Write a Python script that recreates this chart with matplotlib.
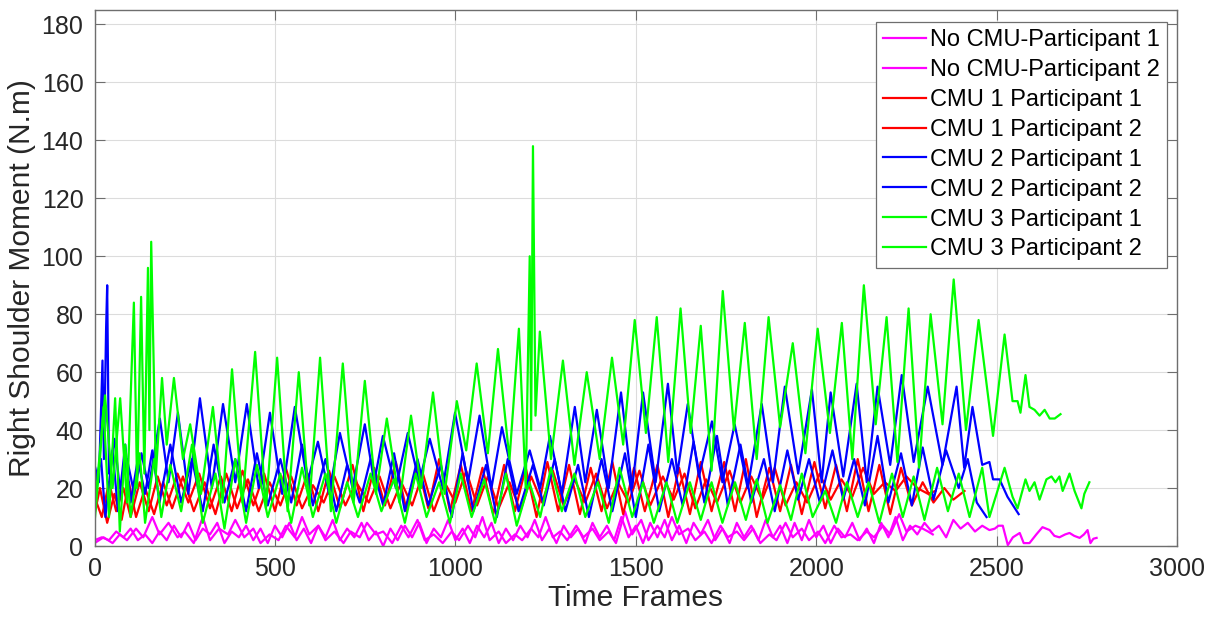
import matplotlib
matplotlib.use("Agg")  # headless
import matplotlib.pyplot as plt

# ---- data (frame, moment) at peaks / troughs ----
nocmu_p1_f = [0, 20, 40, 60, 80, 100, 120, 140, 160, 180, 200, 220, 240, 260, 280, 300, 320, 340, 360, 380,
              400, 420, 440, 460, 480, 500, 520, 540, 560, 580, 600, 620, 640, 660, 680, 700, 720, 740, 760, 780,
              800, 820, 840, 860, 880, 900, 920, 940, 960, 980, 1000, 1020, 1040, 1060, 1080, 1100, 1120, 1140,
              1160, 1180, 1200, 1220, 1240, 1260, 1280, 1300, 1320, 1340, 1360, 1380, 1400, 1420, 1440, 1460,
              1480, 1500, 1520, 1540, 1560, 1580, 1600, 1620, 1640, 1660, 1680, 1700, 1720, 1740, 1760, 1780,
              1800, 1820, 1840, 1860, 1880, 1900, 1920, 1940, 1960, 1980, 2000, 2020, 2040, 2060, 2080, 2100,
              2120, 2140, 2160, 2180, 2200, 2220, 2240, 2260, 2280, 2300, 2320, 2340, 2360, 2380, 2400, 2420,
              2440, 2460, 2480, 2495, 2505, 2517, 2531, 2545, 2564, 2575, 2591, 2610, 2627, 2647, 2660, 2674,
              2690, 2702, 2715, 2730, 2742, 2752, 2760, 2768, 2777]
nocmu_p1_v = [2, 3, 2, 5, 3, 6, 2, 4, 1, 5, 2, 7, 3, 8, 2, 6, 4, 8, 1, 5,
              3, 7, 2, 6, 1, 7, 3, 8, 2, 6, 1, 7, 3, 9, 2, 6, 3, 8, 2, 5,
              0, 6, 2, 7, 3, 8, 1, 6, 3, 9, 2, 6, 1, 7, 3, 8, 1, 6,
              2, 7, 3, 9, 2, 6, 1, 7, 3, 6, 1, 8, 3, 7, 2, 10,
              3, 7, 1, 8, 3, 9, 2, 7, 1, 8, 4, 9, 2, 6, 1, 8,
              3, 7, 2, 9, 3, 7, 1, 8, 2, 9, 3, 7, 1, 6, 3, 8,
              2, 6, 1, 8, 3, 10, 2, 7, 4, 8, 5, 7, 3, 9, 6, 8,
              5, 7, 5.5, 6, 7, 7, 0.3, 3, 4.5, 1, 1, 4, 6.5, 5.5, 3.5, 3,
              4, 4.5, 3.5, 2.8, 4, 5.5, 1, 2.5, 2.8]

nocmu_p2_f = [0, 25, 50, 70, 90, 115, 135, 160, 180, 205, 230, 250, 275, 300, 320, 345, 370, 390, 415, 440,
              460, 485, 510, 530, 555, 575, 595, 620, 640, 665, 690, 710, 735, 755, 780, 800, 825, 850, 870, 895,
              915, 940, 965, 990, 1010, 1035, 1055, 1075, 1095, 1120, 1140, 1165, 1185, 1210, 1230, 1250, 1270,
              1290, 1310, 1335, 1355, 1380, 1400, 1425, 1445, 1470, 1490, 1515, 1535, 1560, 1580, 1600, 1620,
              1645, 1665, 1690, 1710, 1735, 1755, 1780, 1800, 1825, 1845, 1870, 1890, 1915, 1935, 1960, 1980,
              2005, 2025, 2050, 2070, 2095, 2115, 2140, 2160, 2185, 2205, 2230, 2250, 2275, 2295, 2310, 2323]
nocmu_p2_v = [1, 3, 1, 4, 2, 6, 3, 10, 4, 8, 3, 5, 1, 10, 2, 6, 4, 9, 3, 6,
              1, 4, 2, 7, 3, 10, 4, 7, 2, 5, 1, 5, 3, 8, 4, 5, 1, 7, 3, 9,
              2, 4, 1, 5, 2, 7, 3, 10, 2, 5, 1, 4, 2, 6, 3, 10, 3,
              5, 2, 7, 3, 6, 2, 5, 1, 12, 4, 9, 2, 7, 3, 10, 4,
              6, 2, 5, 1, 7, 3, 5, 2, 6, 1, 4, 2, 8, 3, 6, 2,
              5, 1, 7, 3, 4, 2, 5, 3, 7, 4, 11, 5, 7, 6, 5, 4]

cmu1_p1_f = [0, 20, 40, 60, 80, 100, 125, 150, 175, 200, 230, 260, 290, 320, 350, 380, 410, 440, 470, 500,
             530, 560, 590, 620, 650, 680, 715, 745, 775, 805, 835, 865, 895, 925, 955, 985, 1015, 1045, 1075,
             1105, 1135, 1165, 1195, 1225, 1255, 1285, 1315, 1345, 1375, 1405, 1435, 1465, 1495, 1525, 1560,
             1590, 1620, 1650, 1680, 1710, 1745, 1775, 1805, 1835, 1870, 1900, 1930, 1960, 1995, 2025, 2055,
             2085, 2115, 2145, 2175, 2205, 2235, 2265, 2295, 2325, 2355, 2380, 2411]
cmu1_p1_v = [17, 10, 22, 12, 20, 10, 22, 12, 24, 14, 25, 15, 25, 13, 24, 12, 26, 14, 25, 12,
             27, 14, 25, 12, 26, 13, 28, 12, 27, 14, 29, 12, 28, 13, 30, 12, 28, 12, 27,
             11, 28, 12, 27, 10, 29, 12, 28, 11, 27, 12, 29, 11, 27, 12, 28,
             10, 27, 11, 29, 12, 29, 12, 30, 10, 27, 12, 28, 11, 29, 13, 28,
             12, 30, 12, 28, 11, 27, 14, 22, 15, 20, 16, 19]

cmu1_p2_f = [0, 15, 35, 55, 75, 95, 115, 140, 165, 190, 215, 245, 275, 305, 335, 365, 395, 425, 455, 485,
             515, 545, 575, 605, 635, 665, 695, 725, 760, 790, 820, 850, 880, 910, 940, 970, 1000, 1030, 1060,
             1090, 1120, 1150, 1180, 1210, 1240, 1270, 1300, 1330, 1360, 1390, 1420, 1450, 1480, 1510, 1540,
             1575, 1605, 1635, 1665, 1695, 1725, 1760, 1790, 1820, 1850, 1885, 1915, 1945, 1975, 2010, 2040,
             2070, 2100, 2130, 2160, 2190, 2220, 2250, 2280, 2310, 2330]
cmu1_p2_v = [11, 20, 8, 18, 9, 22, 10, 20, 11, 22, 13, 24, 12, 22, 11, 25, 13, 23, 12, 22,
             14, 24, 13, 21, 15, 24, 14, 22, 15, 24, 13, 22, 14, 25, 12, 22, 15, 26, 14,
             24, 13, 22, 12, 24, 15, 26, 14, 23, 15, 25, 13, 22, 15, 26, 14,
             24, 16, 25, 13, 23, 15, 26, 15, 24, 16, 27, 14, 22, 15, 25, 16,
             23, 17, 27, 18, 22, 19, 24, 20, 18, 19]

cmu2_p1_f = [0, 12, 22, 26, 32, 35, 40, 55, 70, 90, 110, 130, 150, 181, 205, 231, 260, 292, 325, 356,
             390, 422, 455, 486, 520, 555, 590, 619, 650, 680, 715, 749, 775, 799, 835, 868, 900, 929, 965,
             999, 1035, 1067, 1100, 1129, 1170, 1206, 1235, 1262, 1295, 1331, 1360, 1392, 1425, 1459, 1490,
             1520, 1555, 1589, 1615, 1644, 1675, 1711, 1740, 1774, 1810, 1849, 1880, 1913, 1950, 1988, 2015,
             2040, 2075, 2112, 2140, 2170, 2205, 2237, 2270, 2309, 2350, 2389, 2410, 2433, 2460, 2480, 2490,
             2508, 2530, 2561]
cmu2_p1_v = [28, 22, 64, 30, 75, 90, 25, 37, 20, 30, 18, 32, 20, 44, 22, 46, 18, 51, 20, 49,
             22, 49, 20, 46, 18, 48, 22, 36, 18, 39, 20, 42, 22, 38, 20, 39, 22, 37, 20,
             46, 22, 45, 20, 41, 18, 33, 20, 38, 18, 48, 22, 47, 20, 53, 20,
             53, 22, 56, 25, 49, 24, 43, 22, 42, 20, 49, 22, 55, 25, 54, 22,
             53, 24, 56, 22, 55, 28, 59, 29, 55, 28, 55, 27, 48, 28, 29, 23,
             23, 17, 11]

cmu2_p2_f = [0, 18, 30, 50, 65, 85, 100, 120, 140, 160, 180, 210, 240, 270, 300, 330, 360, 390, 420, 450,
             480, 515, 545, 575, 605, 640, 670, 700, 735, 765, 800, 830, 860, 895, 925, 960, 990, 1020, 1050,
             1085, 1115, 1145, 1175, 1215, 1245, 1275, 1305, 1340, 1370, 1405, 1435, 1470, 1500, 1535, 1565,
             1600, 1630, 1660, 1690, 1725, 1755, 1790, 1820, 1855, 1885, 1920, 1950, 1980, 2010, 2045, 2075,
             2105, 2135, 2170, 2200, 2235, 2265, 2295, 2325, 2360, 2395, 2420, 2445, 2472]
cmu2_p2_v = [21, 30, 10, 33, 12, 35, 15, 30, 18, 33, 15, 35, 15, 30, 12, 35, 15, 30, 12, 32,
             14, 30, 15, 35, 14, 30, 12, 28, 15, 30, 14, 32, 12, 30, 14, 28, 10, 32, 12,
             28, 10, 30, 12, 28, 14, 30, 12, 28, 10, 30, 12, 32, 10, 35, 12,
             30, 14, 36, 15, 38, 14, 35, 15, 30, 12, 33, 16, 30, 15, 33, 16,
             30, 14, 38, 15, 32, 14, 34, 16, 33, 20, 30, 15, 10]

cmu3_p1_f = [0, 29, 50, 71, 90, 109, 118, 129, 138, 148, 152, 157, 170, 187, 200, 220, 245, 265, 295, 328,
             355, 381, 410, 445, 475, 506, 535, 566, 595, 625, 655, 688, 718, 749, 780, 810, 845, 877, 905,
             938, 970, 1004, 1030, 1059, 1090, 1118, 1150, 1176, 1195, 1206, 1210, 1215, 1222, 1234, 1265,
             1298, 1330, 1364, 1400, 1434, 1465, 1497, 1528, 1558, 1590, 1624, 1652, 1680, 1710, 1741, 1772,
             1802, 1835, 1868, 1900, 1935, 1970, 2004, 2038, 2071, 2100, 2132, 2165, 2195, 2225, 2256, 2285,
             2317, 2350, 2381, 2415, 2450, 2490, 2522, 2544, 2558, 2566, 2580, 2591, 2605, 2619, 2633, 2647,
             2661, 2677]
cmu3_p1_v = [12, 52, 20, 51, 15, 84, 20, 86, 25, 96, 40, 105, 25, 58, 35, 58, 30, 42, 18, 48,
             15, 61, 15, 67, 13, 65, 12, 60, 14, 65, 12, 63, 15, 57, 18, 44, 15, 45, 20,
             53, 18, 50, 33, 63, 32, 68, 30, 75, 20, 100, 40, 138, 45, 74, 30,
             64, 28, 60, 30, 65, 35, 78, 39, 79, 29, 82, 39, 76, 26, 88, 40,
             77, 30, 79, 41, 70, 32, 75, 39, 77, 30, 90, 42, 79, 29, 82, 27,
             80, 42, 92, 40, 78, 38, 73, 50, 50, 46, 59, 48, 47, 45, 47, 44,
             44, 45.5]

cmu3_p2_f = [0, 15, 25, 40, 57, 70, 85, 100, 125, 140, 165, 185, 210, 240, 270, 300, 335, 360, 390, 420,
             450, 480, 515, 545, 575, 605, 640, 670, 700, 730, 765, 795, 830, 860, 890, 920, 955, 985, 1015,
             1045, 1080, 1110, 1140, 1170, 1205, 1235, 1265, 1295, 1330, 1360, 1395, 1425, 1455, 1490, 1520,
             1550, 1585, 1615, 1650, 1680, 1710, 1740, 1775, 1805, 1835, 1865, 1900, 1930, 1960, 1990, 2025,
             2055, 2085, 2115, 2145, 2175, 2210, 2240, 2270, 2300, 2335, 2365, 2395, 2425, 2460, 2480, 2522,
             2544, 2558, 2580, 2591, 2605, 2619, 2638, 2652, 2663, 2674, 2683, 2702, 2716, 2735, 2743, 2757]
cmu3_p2_v = [8, 30, 48, 10, 51, 5, 35, 10, 32, 8, 30, 10, 28, 12, 35, 8, 25, 6, 30, 8,
             28, 10, 25, 8, 27, 10, 25, 8, 22, 10, 25, 12, 23, 8, 25, 10, 22, 8, 25,
             10, 23, 8, 25, 7, 22, 10, 27, 12, 25, 10, 22, 8, 27, 10, 22,
             8, 22, 8, 22, 9, 22, 8, 22, 9, 23, 8, 21, 9, 25, 10, 19,
             8, 22, 10, 22, 8, 25, 10, 24, 9, 27, 12, 25, 10, 27, 10, 27,
             17, 13, 23, 19, 22, 16, 23, 24, 22, 24, 19, 25, 19, 13, 18, 22]

series_labels = ["No CMU-Participant 1", "No CMU-Participant 2",
                 "CMU 1 Participant 1", "CMU 1 Participant 2",
                 "CMU 2 Participant 1", "CMU 2 Participant 2",
                 "CMU 3 Participant 1", "CMU 3 Participant 2"]

series = [(nocmu_p1_f, nocmu_p1_v), (nocmu_p2_f, nocmu_p2_v),
          (cmu1_p1_f, cmu1_p1_v), (cmu1_p2_f, cmu1_p2_v),
          (cmu2_p1_f, cmu2_p1_v), (cmu2_p2_f, cmu2_p2_v),
          (cmu3_p1_f, cmu3_p1_v), (cmu3_p2_f, cmu3_p2_v)]
colors = ["#FF00FF", "#FF00FF", "#FF0000", "#FF0000",
          "#0000FF", "#0000FF", "#00FF00", "#00FF00"]

plt.rcParams["font.family"] = ["Liberation Sans", "DejaVu Sans"]

fig = plt.figure(figsize=(12.2, 6.25), dpi=100)
ax = fig.add_axes([0.0775, 0.1264, 0.8873, 0.8576])

for (f, v), c, lab in zip(series, colors, series_labels):
    ax.plot(f, v, color=c, linewidth=1.6, label=lab)

ax.set_xlim(0, 3000)
ax.set_ylim(0, 185)
ax.set_xticks(range(0, 3001, 500))
ax.set_yticks(range(0, 181, 20))

# MATLAB-ish look: boxed axes, inward ticks on all sides, light grid
ax.grid(True, color="#dcdcdc", linewidth=0.8)
ax.set_axisbelow(True)
for side in ("top", "right", "left", "bottom"):
    ax.spines[side].set_color("#6e6e6e")
    ax.spines[side].set_linewidth(1.0)
ax.tick_params(direction="in", length=7, width=0.8, color="#6e6e6e",
               top=True, right=True, labelsize=18, labelcolor="#262626", pad=8)

ax.set_xlabel("Time Frames", fontsize=21.5, color="#262626", labelpad=2)
ax.set_ylabel("Right Shoulder Moment (N.m)", fontsize=21.5, color="#262626", labelpad=4)

leg = ax.legend(loc="upper right", bbox_to_anchor=(0.9908, 0.9776), fontsize=17,
                fancybox=False, framealpha=1, edgecolor="#6e6e6e", borderaxespad=0,
                handlelength=1.82, handletextpad=0.18, labelspacing=0.335, borderpad=0.3)
leg.get_frame().set_linewidth(0.9)
for line in leg.get_lines():
    line.set_linewidth(1.6)

fig.savefig("out.png", dpi=100)
plt.close(fig)
